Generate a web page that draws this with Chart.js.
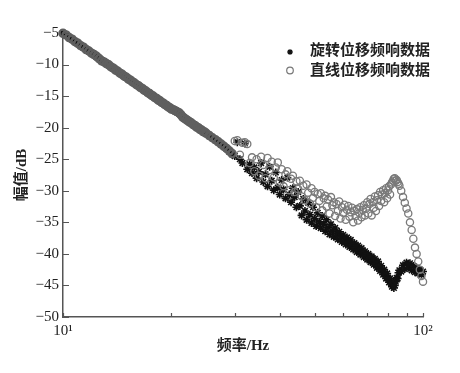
<!DOCTYPE html>
<html><head><meta charset="utf-8">
<script src="https://cdn.jsdelivr.net/npm/chart.js@4/dist/chart.umd.min.js"></script>
<style>html,body{margin:0;padding:0;background:#fff;}#wrap{width:460px;height:373px;}</style>
</head><body><div id="wrap"><canvas id="c" width="460" height="373"></canvas></div>
<script>
// Frequency grid (Hz)
const freq = [10,10.2,10.4,10.6,10.8,11,11.2,11.4,11.6,11.8,
12,12.2,12.4,12.6,12.8,13,13.2,13.4,13.6,13.8,
14,14.2,14.4,14.6,14.8,15,15.2,15.4,15.6,15.8,
16,16.2,16.4,16.6,16.8,17,17.2,17.4,17.6,17.8,
18,18.2,18.4,18.6,18.8,19,19.2,19.4,19.6,19.8,
20,20.25,20.5,20.75,21,21.25,21.5,21.75,22,22.25,
22.5,22.75,23,23.25,23.5,23.75,24,24.25,24.5,24.75,
25,25.5,26,26.5,27,27.5,28,28.5,29,29.5,
30,30.5,31,31.5,32,32.5,33,33.5,34,34.5,35,35.5,36,36.5,37,37.5,38,38.5,39,39.5,
40,40.5,41,41.5,42,42.5,43,43.5,44,44.5,45,45.5,46,46.5,47,47.5,48,48.5,49,49.5,
50,50.5,51,51.5,52,52.5,53,53.5,54,54.5,55,55.5,56,56.5,57,57.5,58,58.5,59,59.5,
60,60.5,61,61.5,62,62.5,63,63.5,64,64.5,65,65.5,66,66.5,67,67.5,68,68.5,69,69.5,
70,70.5,71,71.5,72,72.5,73,73.5,74,74.5,75,75.5,76,76.5,77,77.5,78,78.5,79,79.5,
80,80.5,81,81.5,82,82.5,83,83.5,84,84.5,85,85.5,86,
87,88,89,90,91,92,93,94,95,96,97,98,99,100];

// 旋转位移频响数据 (dB)
const rotDb = [-5.00,-5.36,-5.66,-6.03,-6.32,-6.68,-6.95,-7.30,-7.56,-7.90,
-8.15,-8.48,-8.80,-9.10,-9.33,-9.52,-9.80,-10.10,-10.32,-10.62,
-10.83,-11.11,-11.31,-11.59,-11.79,-12.06,-12.25,-12.52,-12.70,-12.97,
-13.14,-13.40,-13.57,-13.82,-13.99,-14.24,-14.40,-14.64,-14.80,-15.04,
-15.19,-15.42,-15.57,-15.80,-15.95,-16.17,-16.31,-16.53,-16.67,-16.88,
-17.00,-17.18,-17.40,-17.55,-17.75,-18.02,-18.25,-18.46,-18.68,-18.86,
-19.08,-19.30,-19.49,-19.70,-19.86,-20.06,-20.24,-20.43,-20.60,-20.80,
-20.95,-21.3,-21.65,-22.0,-22.3,-22.65,-23.0,-23.4,-23.8,-24.2,
-24.5,
-22.3,-25.0,-25.6,-22.5,-26.6,-25.8,-27.2,-26.3,-28.0,-27.0,
-25.6,-28.6,-27.4,-29.3,-26.2,-28.4,-29.9,-27.1,-29.5,-30.6,
-28.3,-29.8,-31.2,-27.9,-30.6,-31.8,-29.6,-31.0,-32.6,-30.2,
-32.4,-33.9,-31.3,-33.2,-34.6,-31.9,-33.8,-35.1,-32.6,-34.4,
-35.6,-33.5,-34.9,-35.9,-34.0,-35.3,-36.4,-34.6,-35.8,-36.9,
-35.3,-36.4,-37.3,-35.9,-36.8,-37.7,-36.5,-37.2,-38.1,-37.0,
-37.8,-38.5,-37.4,-38.2,-38.9,-37.8,-38.6,-39.3,-38.3,-39.0,
-39.7,-38.7,-39.4,-40.1,-39.1,-39.8,-40.5,-39.6,-40.2,-40.9,
-40.0,-40.6,-41.3,-40.4,-41.0,-41.7,-40.8,-41.5,-42.2,-41.2,
-42.0,-42.7,-41.9,-42.6,-43.3,-42.5,-43.2,-43.9,-43.1,-43.8,
-44.5,-43.9,-44.7,-45.2,-44.6,-45.4,-45.0,-44.4,-43.8,-43.9,
-43.0,-42.6,
-42.8,-41.8,-42.4,-41.4,-42.2,-41.5,-42.6,-41.9,-42.9,-42.2,-43.1,-42.5,-43.3,-42.8];

// 直线位移频响数据 (dB)
const linDb = [-5.05,-5.30,-5.72,-5.98,-6.38,-6.63,-7.01,-7.25,-7.62,-7.85,
-8.20,-8.42,-8.70,-9.05,-9.40,-9.58,-9.85,-10.05,-10.38,-10.57,
-10.88,-11.06,-11.36,-11.55,-11.84,-12.01,-12.30,-12.47,-12.75,-12.92,
-13.20,-13.35,-13.62,-13.78,-14.04,-14.19,-14.45,-14.60,-14.85,-14.99,
-15.25,-15.37,-15.62,-15.75,-16.00,-16.12,-16.36,-16.48,-16.72,-16.83,
-17.05,-17.15,-17.30,-17.48,-17.62,-17.95,-18.32,-18.52,-18.72,-18.92,
-19.12,-19.26,-19.52,-19.64,-19.90,-20.00,-20.27,-20.36,-20.62,-20.70,
-20.9,-21.25,-21.6,-21.9,-22.25,-22.6,-22.95,-23.3,-23.7,-24.1,
-22.1,
-22.0,-24.3,-22.4,-22.3,-22.6,-25.6,-24.7,-26.9,-25.0,-27.6,
-24.6,-25.9,-28.0,-24.8,-26.7,-25.4,-27.9,-26.3,-25.5,-28.7,
-26.6,-29.3,-27.4,-26.9,-29.9,-28.1,-27.6,-30.2,-28.5,-29.7,
-28.4,-30.9,-29.2,-31.5,-29.0,-30.3,-32.0,-29.6,-31.1,-30.2,
-32.6,-30.5,-31.6,-30.4,-33.1,-31.2,-30.8,-32.5,-31.4,-33.6,
-31.0,-32.3,-31.8,-34.0,-32.1,-33.2,-31.7,-34.4,-32.6,-33.5,
-32.2,-34.6,-33.0,-32.4,-34.1,-33.4,-32.7,-35.0,-33.2,-34.0,
-32.9,-34.7,-33.5,-32.6,-34.2,-33.0,-32.3,-33.9,-32.8,-31.8,
-33.6,-32.1,-31.3,-33.9,-31.8,-32.7,-30.9,-33.2,-31.5,-30.7,
-32.4,-30.2,-31.6,-30.6,-29.9,-31.8,-30.4,-29.6,-31.2,-29.9,
-29.3,-30.6,-29.0,-28.7,-28.4,-28.1,-28.0,-28.4,-28.3,-28.6,
-28.9,-29.2,
-30.0,-31.0,-31.9,-32.8,-33.6,-35.0,-36.2,-37.6,-39.0,-40.0,-41.2,-42.5,-43.5,-44.4];

const seriesNames = ['旋转位移频响数据', '直线位移频响数据'];
const xTickValues = [10,20,30,40,50,60,70,80,90,100];
const xTickLabels = {10: '10¹', 100: '10²'};
const yMin = -50, yMax = -5, yStep = 5;
const xTitle = '频率/Hz';
const yTitle = '幅值/dB';

const axisColor = '#555';
const serif = "'Liberation Serif', 'Noto Sans CJK SC', serif";

const tickMarks = {
  id: 'tickMarks',
  afterDatasetsDraw(chart) {
    const {ctx, chartArea: a, scales: {x, y}} = chart;
    ctx.save();
    ctx.strokeStyle = axisColor;
    ctx.lineWidth = 1.2;
    ctx.beginPath();
    y.ticks.forEach(t => {
      const py = Math.round(y.getPixelForValue(t.value)) + 0.5;
      ctx.moveTo(a.left, py); ctx.lineTo(a.left + 6, py);
    });
    x.ticks.forEach(t => {
      const px = Math.round(x.getPixelForValue(t.value)) + 0.5;
      ctx.moveTo(px, a.bottom); ctx.lineTo(px, a.bottom - 4);
    });
    ctx.stroke();
    ctx.restore();
  }
};

const legendBox = {
  id: 'legendBox',
  afterDraw(chart) {
    const ctx = chart.ctx;
    ctx.save();
    const sx = 290, sy = 52, r = 2.8;
    ctx.strokeStyle = '#111'; ctx.lineWidth = 1.4;
    ctx.beginPath();
    for (let k = 0; k < 4; k++) {
      const ang = k * Math.PI / 4;
      ctx.moveTo(sx - r * Math.cos(ang), sy - r * Math.sin(ang));
      ctx.lineTo(sx + r * Math.cos(ang), sy + r * Math.sin(ang));
    }
    ctx.stroke();
    ctx.strokeStyle = '#777'; ctx.lineWidth = 1.2;
    ctx.beginPath(); ctx.arc(290, 70.5, 3.3, 0, Math.PI * 2); ctx.stroke();
    ctx.fillStyle = '#222';
    ctx.font = "bold 15px 'Noto Sans CJK SC'";
    ctx.textBaseline = 'middle';
    ctx.textAlign = 'left';
    ctx.fillText(seriesNames[0], 310, 49.5);
    ctx.fillText(seriesNames[1], 310, 69);
    ctx.restore();
  }
};

new Chart(document.getElementById('c'), {
  type: 'scatter',
  data: {
    datasets: [
      {
        label: seriesNames[0],
        data: freq.map((f, i) => ({x: f, y: rotDb[i]})),
        pointStyle: 'star', pointRadius: 4, borderColor: '#111', backgroundColor: '#111',
        pointBorderWidth: 1.6, clip: false, order: 2
      },
      {
        label: seriesNames[1],
        data: freq.map((f, i) => ({x: f, y: linDb[i]})),
        pointStyle: 'circle', pointRadius: 3.6, backgroundColor: 'rgba(0,0,0,0)',
        pointBorderColor: c => (c.raw && c.raw.x < 30 ? '#5f5f5f' : '#7a7a7a'),
        pointBorderWidth: c => (c.raw && c.raw.x < 30 ? 2.3 : 1.3),
        clip: false, order: 1
      }
    ]
  },
  options: {
    responsive: false, animation: false, devicePixelRatio: 1,
    layout: {padding: {top: 33, right: 37, left: 0, bottom: 0}},
    plugins: {legend: {display: false}, tooltip: {enabled: false}},
    events: [],
    scales: {
      x: {
        type: 'logarithmic', min: 10, max: 100, position: 'bottom',
        grid: {display: false, drawTicks: false},
        border: {display: true, color: axisColor, width: 1.5},
        afterBuildTicks: s => { s.ticks = xTickValues.map(v => ({value: v})); },
        ticks: {
          autoSkip: false, maxRotation: 0, padding: 5, color: '#222',
          font: {family: serif, size: 15},
          callback: v => xTickLabels[Math.round(v)] || ''
        },
        title: {display: true, text: xTitle, color: '#222', font: {family: serif, size: 15, weight: 'bold'}, padding: {top: 0, bottom: 18}},
        afterFit: s => { s.height = 56; }
      },
      y: {
        type: 'linear', min: yMin, max: yMax,
        grid: {display: false, drawTicks: false},
        border: {display: true, color: axisColor, width: 1.5},
        ticks: {
          stepSize: yStep, padding: 4, color: '#222',
          font: {family: serif, size: 15},
          callback: v => (v < 0 ? '\u2212' + Math.abs(v) : String(v))
        },
        title: {display: true, text: yTitle, color: '#222', font: {family: serif, size: 15, weight: 'bold'}, padding: {top: 13, bottom: 0}},
        afterFit: s => { s.width = 63; }
      }
    }
  },
  plugins: [tickMarks, legendBox]
});
</script></body></html>
